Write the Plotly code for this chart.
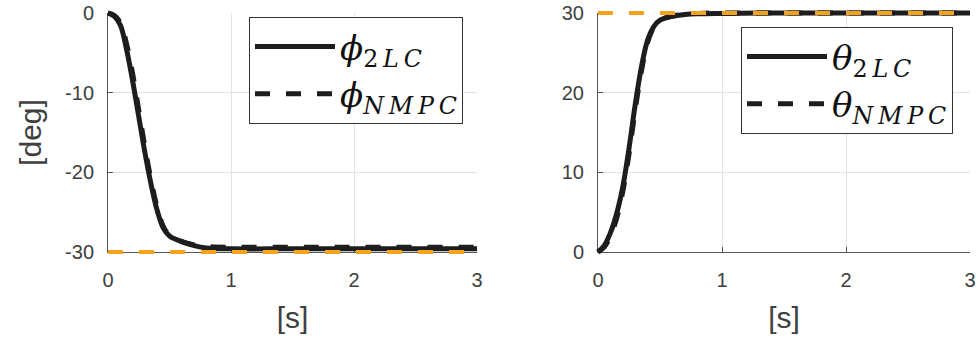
import plotly.graph_objects as go

# ---------------- data ----------------
t = [0, 0.05, 0.1, 0.15, 0.2, 0.25, 0.3, 0.35, 0.4, 0.45, 0.5, 0.6, 0.7, 0.8, 1.0, 1.5, 2.0, 3.0]
phi_2lc = [0, -0.4, -1.5, -4.5, -8.5, -13.0, -17.5, -21.5, -24.8, -27.0, -28.0, -28.7, -29.2, -29.5, -29.6, -29.6, -29.6, -29.6]
phi_nmpc = [0, -0.3, -1.2, -3.8, -7.6, -12.2, -16.8, -21.0, -24.4, -26.8, -27.9, -28.7, -29.1, -29.3, -29.4, -29.4, -29.4, -29.4]
theta_2lc = [0, 0.8, 2.4, 4.8, 8.2, 13.0, 18.5, 23.2, 26.6, 28.3, 29.1, 29.6, 29.8, 29.9, 29.95, 30, 30, 30]
theta_nmpc = [0, 0.6, 2.0, 4.2, 7.6, 12.3, 17.8, 22.7, 26.3, 28.2, 29.1, 29.6, 29.85, 29.95, 30, 30, 30, 30]
t_ref = [0, 3]
phi_ref = [-30, -30]
theta_ref = [30, 30]

x_ticks = [0, 1, 2, 3]
phi_ticks = [-30, -20, -10, 0]
phi_tick_labels = ["-30", "-20", "-10", "0"]
theta_ticks = [0, 10, 20, 30]
theta_tick_labels = ["0", "10", "20", "30"]

# ---------------- layout helpers ----------------
W, H = 979, 347
PAD = 5
BLACK = "#1e1c1e"
ORANGE = "#f5a31a"
GREY_TXT = "#404040"
AXIS_COL = "#555555"
SANS = "Liberation Sans, Arial, sans-serif"


def dx(a, b):
    return [a / W, b / W]


def dy(top, bottom):
    return [1 - bottom / H, 1 - top / H]


def padded(r, lo_pad, hi_pad, span_px):
    s = (r[1] - r[0]) / span_px
    return [r[0] - lo_pad * s, r[1] + hi_pad * s]


panels = [
    dict(px=(108, 477), py=(13, 252), xr=[0, 3], yr=[-30, 0], yt=phi_ticks, ytt=phi_tick_labels, ref=phi_ref),
    dict(px=(598, 970), py=(13, 252), xr=[0, 3], yr=[0, 30], yt=theta_ticks, ytt=theta_tick_labels, ref=theta_ref),
]

fig = go.Figure()

layout = dict(
    width=W, height=H,
    margin=dict(l=0, r=0, t=0, b=0),
    paper_bgcolor="white", plot_bgcolor="rgba(0,0,0,0)",
    showlegend=True,
)

axis_common = dict(
    showline=True, linecolor=AXIS_COL, linewidth=1,
    ticks="inside", ticklen=5, tickcolor=AXIS_COL, tickwidth=1,
    showgrid=True, gridcolor="#e3e3e3", gridwidth=1,
    zeroline=False,
    tickfont=dict(family=SANS, size=20, color=GREY_TXT),
    ticklabeloverflow="allow",
    automargin=False,
)

for i, p in enumerate(panels):
    n = i + 1
    sfx = "" if n == 1 else str(n)
    (a, b), (top, bot) = p["px"], p["py"]
    layout[f"xaxis{sfx}"] = dict(axis_common, domain=dx(a, b), range=p["xr"], tickvals=x_ticks,
                                 anchor=f"y{sfx}", ticklabelstandoff=10,
                                 title=dict(text="[s]", font=dict(family=SANS, size=30, color=GREY_TXT), standoff=16))
    yd = dict(axis_common, domain=dy(top, bot), range=p["yr"], tickvals=p["yt"], ticktext=p["ytt"],
              anchor=f"x{sfx}", ticklabelstandoff=9)
    if n == 1:
        yd["title"] = dict(text="[deg]", font=dict(family=SANS, size=30, color=GREY_TXT), standoff=14)
    layout[f"yaxis{sfx}"] = yd
    # invisible holder trace so that the main (grid/tick) axes are drawn
    fig.add_trace(go.Scatter(x=t_ref, y=p["ref"], mode="lines", xaxis=f"x{sfx}", yaxis=f"y{sfx}",
                             line=dict(width=0, color="rgba(0,0,0,0)"), showlegend=False, hoverinfo="skip"))
    # overlay axes for the curves (slightly larger so thick lines at edges are not clipped)
    m = n + 2
    xl = min(PAD, a)
    xh = min(PAD, W - b)
    yt_pad = min(PAD, top)
    yb_pad = min(PAD, H - bot)
    layout[f"xaxis{m}"] = dict(domain=dx(a - xl, b + xh), range=padded(p["xr"], xl, xh, b - a),
                               visible=False, anchor=f"y{m}")
    layout[f"yaxis{m}"] = dict(domain=dy(top - yt_pad, bot + yb_pad),
                               range=padded(p["yr"], yb_pad, yt_pad, bot - top),
                               visible=False, anchor=f"x{m}")

TS = "\u2009"
series = [
    (3, phi_2lc, phi_nmpc, phi_ref, "ϕ", "legend"),
    (4, theta_2lc, theta_nmpc, theta_ref, "θ", "legend2"),
]
for m, y1, y2, yr, sym, lg in series:
    fig.add_trace(go.Scatter(x=t, y=y1, mode="lines", xaxis=f"x{m}", yaxis=f"y{m}",
                             line=dict(color=BLACK, width=5, shape="spline"),
                             name=f"<i>{sym}</i><sub>2<i>{TS}L{TS}C</i></sub>", legend=lg))
    fig.add_trace(go.Scatter(x=t, y=y2, mode="lines", xaxis=f"x{m}", yaxis=f"y{m}",
                             line=dict(color=BLACK, width=5, dash="15px,16px", shape="spline"),
                             name=f"<i>{sym}</i><sub><i>N{TS}M{TS}P{TS}C</i></sub>", legend=lg))
    fig.add_trace(go.Scatter(x=t_ref, y=yr, mode="lines", xaxis=f"x{m}", yaxis=f"y{m}",
                             line=dict(color=ORANGE, width=4, dash="15px,16px"),
                             showlegend=False, hoverinfo="skip"))

leg_common = dict(
    xanchor="left", yanchor="top", bgcolor="white", bordercolor="#333333", borderwidth=1,
    font=dict(family="DejaVu Serif, Liberation Serif, serif", size=34, color="#111111"),
    itemwidth=80, tracegroupgap=0,
)
layout["legend"] = dict(leg_common, x=249 / W, y=1 - 17 / H)
layout["legend2"] = dict(leg_common, x=741 / W, y=1 - 27 / H)

fig.update_layout(**layout)
fig.write_html("out.html", config={"displayModeBar": False},
               post_script="document.body.style.margin='0';")
